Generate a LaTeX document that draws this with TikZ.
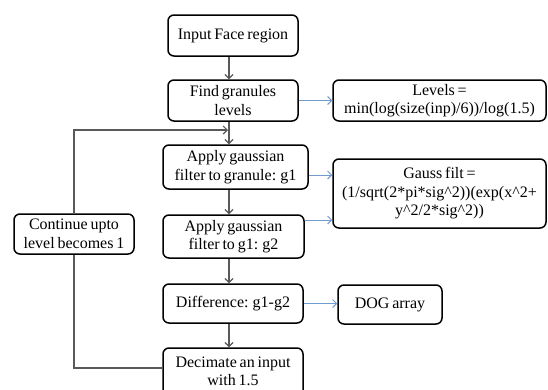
\documentclass[tikz,border=0pt]{standalone}
\usepackage{fontspec}
\setmainfont[WordSpace=0.7]{Liberation Serif}
\usetikzlibrary{arrows.meta}
\definecolor{lineg}{HTML}{595959}
\definecolor{lineb}{HTML}{6F9BD1}
\begin{document}
\begin{tikzpicture}[x=1pt,y=-1pt,
  box/.style={draw=black, line width=1.5pt, rounded corners=6pt, align=center,
    inner sep=2pt, font=\fontsize{16}{18.5}\selectfont, text=black},
  garrow/.style={draw=lineg, line width=1.1pt, -{Straight Barb[length=4pt,width=8pt]}},
  gline/.style={draw=lineg, line width=1.1pt},
  barrow/.style={draw=lineb, line width=1pt, -{Straight Barb[length=4pt,width=8pt]}}]
\useasboundingbox (0,0) rectangle (548,389);
\clip (0,0) rectangle (548,389);
\fill[white] (0,0) rectangle (548,389);
\coordinate (spine) at (229,0);
\coordinate (loopy) at (0,130);
\node[box, minimum width=130pt, minimum height=41pt] (input) at (233,35.5) {Input Face region};
\node[box, minimum width=130pt, minimum height=41pt] (find) at (233,100.5) {Find granules\\levels};
\node[box, minimum width=213pt, minimum height=41pt] (levels) at (439.5,100.5) {Levels =\\min(log(size(inp)/6))/log(1.5)};
\node[box, minimum width=145pt, minimum height=44pt] (g1) at (235.5,167) {Apply gaussian\\filter to granule: g1};
\node[box, minimum width=213pt, minimum height=69pt] (gauss) at (439.5,193.5) {Gauss filt =\\(1/sqrt(2*pi*sig\textasciicircum2))(exp(x\textasciicircum2+\\y\textasciicircum2/2*sig\textasciicircum2))};
\node[box, minimum width=120pt, minimum height=40pt] (cont) at (74,234) {Continue upto\\level becomes 1};
\node[box, minimum width=141pt, minimum height=43pt] (g2) at (233.5,236.5) {Apply gaussian\\filter to g1: g2};
\node[box, minimum width=140pt, minimum height=39pt] (diff) at (233,303.5) {Difference: g1-g2};
\node[box, minimum width=104pt, minimum height=39pt] (dog) at (390,304.5) {DOG array};
\node[box, minimum width=140pt, minimum height=50pt] (dec) at (233,373) {\raisebox{4pt}{\begin{tabular}{@{}c@{}}Decimate an input\\with 1.5\end{tabular}}};
% vertical flow
\draw[garrow] (input.south -| spine) -- (find.north -| spine);
\draw[garrow] (find.south -| spine) -- (g1.north -| spine);
\draw[garrow] (g1.south -| spine) -- (g2.north -| spine);
\draw[garrow] (g2.south -| spine) -- (diff.north -| spine);
\draw[garrow] (diff.south -| spine) -- (dec.north -| spine);
% loop
\draw[gline] ([yshift=5pt]dec.west) -- ([yshift=5pt]dec.west -| cont.south) -- (cont.south);
\draw[garrow] (cont.north) -- (cont.north |- loopy) -- ([xshift=-1pt]loopy -| spine);
% blue arrows
\draw[barrow] (find.east) -- (find.east -| levels.west);
\draw[barrow] ([yshift=-8pt]g1.east) -- ([yshift=-8pt]g1.east -| gauss.west);
\draw[barrow] ([yshift=16.5pt]g2.east) -- ([yshift=16.5pt]g2.east -| gauss.west);
\draw[barrow] (diff.east) -- (diff.east -| dog.west);
\end{tikzpicture}
\end{document}
